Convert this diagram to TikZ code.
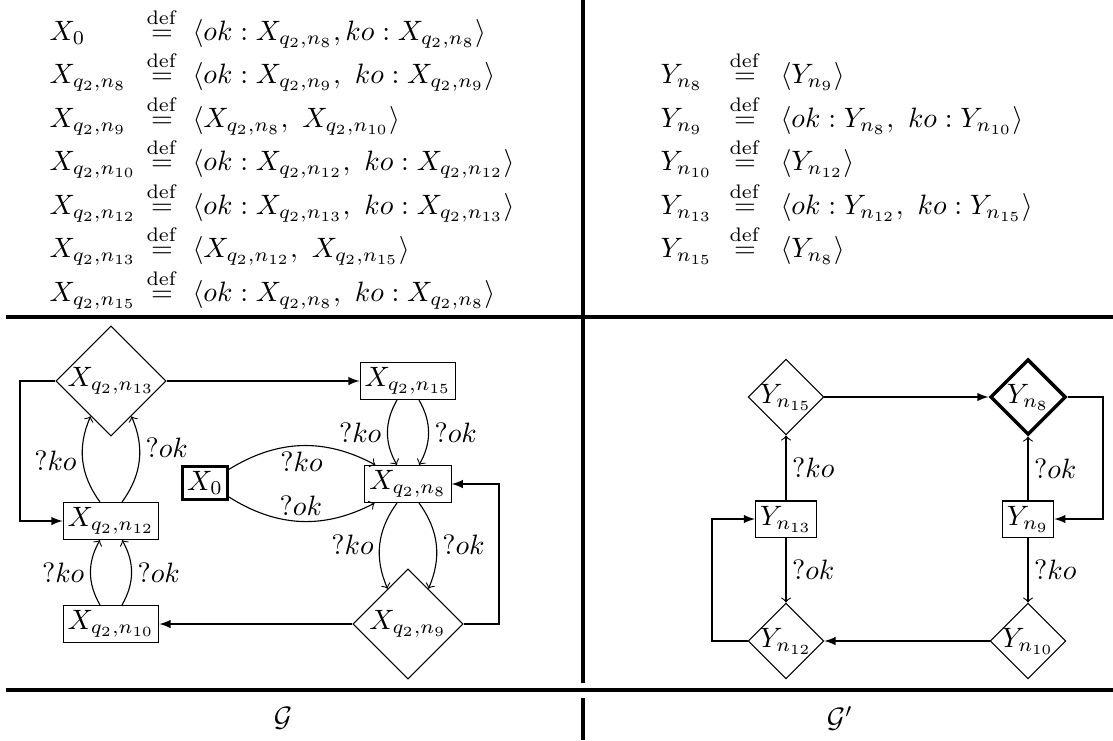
\documentclass[tikz,border=0pt]{standalone}
\usetikzlibrary{shapes.geometric,arrows}
\begin{document}
\begin{tikzpicture}[x=0.357pt,y=-0.357pt,
  rule/.style={line width=1.4pt},
  xbox/.style={draw, rectangle, inner xsep=1.6pt, inner ysep=0pt, minimum height=13.2pt},
  ybox/.style={draw, rectangle, inner xsep=1.6pt, inner ysep=0pt, minimum height=12.9pt},
  xdiam/.style={draw, diamond, inner sep=0pt, minimum width=39.3pt, minimum height=39.3pt},
  ydiam/.style={draw, diamond, inner sep=0pt, minimum width=27pt, minimum height=27pt},
  thickb/.style={line width=1.1pt},
  eqL/.style={anchor=base west, inner sep=0pt},
  eqD/.style={anchor=base, inner sep=0pt},
  open/.style={->},
  filled/.style={-latex},
  lbl/.style={inner sep=2pt}
]
\useasboundingbox (0,0) rectangle (1113,740);
\def\dfeq{$\stackrel{\mathrm{def}}{=}$}
% ---- rules
\draw[rule] (6,317) -- (1113,317);
\draw[rule] (583,0) -- (583,683);
\draw[rule] (6,690) -- (1113,690);
\draw[rule] (583,698) -- (583,740);
% ---- left equations
\node[eqL] (l1a) at (49,40) {$X_0$};
\node[eqD] (l1b) at (162,40) {\dfeq};
\node[eqL] (l1c) at (192,40) {$\langle ok : X_{q_2,n_8}, ko : X_{q_2,n_8}\rangle$};
\node[eqL] (l2a) at (49,83.5) {$X_{q_2,n_8}$};
\node[eqD] (l2b) at (162,83.5) {\dfeq};
\node[eqL] (l2c) at (192,83.5) {$\langle ok : X_{q_2,n_9},\ ko : X_{q_2,n_9}\rangle$};
\node[eqL] (l3a) at (49,127) {$X_{q_2,n_9}$};
\node[eqD] (l3b) at (162,127) {\dfeq};
\node[eqL] (l3c) at (192,127) {$\langle X_{q_2,n_8},\ X_{q_2,n_{10}}\rangle$};
\node[eqL] (l4a) at (49,170.5) {$X_{q_2,n_{10}}$};
\node[eqD] (l4b) at (162,170.5) {\dfeq};
\node[eqL] (l4c) at (192,170.5) {$\langle ok : X_{q_2,n_{12}},\ ko : X_{q_2,n_{12}}\rangle$};
\node[eqL] (l5a) at (49,214) {$X_{q_2,n_{12}}$};
\node[eqD] (l5b) at (162,214) {\dfeq};
\node[eqL] (l5c) at (192,214) {$\langle ok : X_{q_2,n_{13}},\ ko : X_{q_2,n_{13}}\rangle$};
\node[eqL] (l6a) at (49,257.5) {$X_{q_2,n_{13}}$};
\node[eqD] (l6b) at (162,257.5) {\dfeq};
\node[eqL] (l6c) at (192,257.5) {$\langle X_{q_2,n_{12}},\ X_{q_2,n_{15}}\rangle$};
\node[eqL] (l7a) at (49,301) {$X_{q_2,n_{15}}$};
\node[eqD] (l7b) at (162,301) {\dfeq};
\node[eqL] (l7c) at (192,301) {$\langle ok : X_{q_2,n_8},\ ko : X_{q_2,n_8}\rangle$};
% ---- right equations
\node[eqL] (r1a) at (660,83.5) {$Y_{n_8}$};
\node[eqD] (r1b) at (745,83.5) {\dfeq};
\node[eqL] (r1c) at (780,83.5) {$\langle Y_{n_9}\rangle$};
\node[eqL] (r2a) at (660,127) {$Y_{n_9}$};
\node[eqD] (r2b) at (745,127) {\dfeq};
\node[eqL] (r2c) at (780,127) {$\langle ok : Y_{n_8},\ ko : Y_{n_{10}}\rangle$};
\node[eqL] (r3a) at (660,170.5) {$Y_{n_{10}}$};
\node[eqD] (r3b) at (745,170.5) {\dfeq};
\node[eqL] (r3c) at (780,170.5) {$\langle Y_{n_{12}}\rangle$};
\node[eqL] (r4a) at (660,214) {$Y_{n_{13}}$};
\node[eqD] (r4b) at (745,214) {\dfeq};
\node[eqL] (r4c) at (780,214) {$\langle ok : Y_{n_{12}},\ ko : Y_{n_{15}}\rangle$};
\node[eqL] (r5a) at (660,257.5) {$Y_{n_{15}}$};
\node[eqD] (r5b) at (745,257.5) {\dfeq};
\node[eqL] (r5c) at (780,257.5) {$\langle Y_{n_8}\rangle$};
% ---- left graph
\node[xdiam] (n13) at (111,381) {};
\node (n13t) at (n13) {$X_{q_2,n_{13}}$};
\node[xbox] (n15) at (408,381) {$X_{q_2,n_{15}}$};
\node[xbox] (n8) at (408,484) {$X_{q_2,n_8}$};
\node[xbox] (n12) at (111,521) {$X_{q_2,n_{12}}$};
\node[xbox] (n10) at (111,624) {$X_{q_2,n_{10}}$};
\node[xdiam] (n9) at (408,624) {};
\node (n9t) at (n9) {$X_{q_2,n_9}$};
\node[xbox, thickb, minimum height=11.8pt] (x0) at (205,483) {$X_0$};
\coordinate (c1312) at (20,381);
\coordinate (c98) at (499,624);
\draw[filled] (n13.east) -- (n15.west);
\draw[filled] (n13.west) -- (c1312) |- (n12.west);
\draw[filled] (n9.west) -- (n10.east);
\draw[filled] (n9.east) -- (c98) |- (n8.east);
\draw[open] (n12) to[bend left=30] node[lbl, left] {$?ko$} (n13);
\draw[open] (n12) to[bend right=30] node[lbl, right, pos=0.65] {$?ok$} (n13);
\draw[open] (n10) to[bend left=30] node[lbl, left] {$?ko$} (n12);
\draw[open] (n10) to[bend right=30] node[lbl, right] {$?ok$} (n12);
\draw[open] (n15) to[bend right=30] node[lbl, left] {$?ko$} (n8);
\draw[open] (n15) to[bend left=30] node[lbl, right] {$?ok$} (n8);
\draw[open] (n8) to[bend right=30] node[lbl, left] {$?ko$} (n9);
\draw[open] (n8) to[bend left=30] node[lbl, right] {$?ok$} (n9);
\draw[open] (x0) to[bend left=30] node[lbl, below] {$?ko$} (n8);
\draw[open] (x0) to[bend right=30] node[lbl, above] {$?ok$} (n8);
% ---- right graph
\node[ydiam] (y15) at (786,397) {};
\node (y15t) at (y15) {$Y_{n_{15}}$};
\node[ydiam, line width=1.2pt] (y8) at (1028,397) {};
\node (y8t) at (y8) {$Y_{n_8}$};
\node[ybox] (y13) at (786,519) {$Y_{n_{13}}$};
\node[ybox] (y9) at (1028,519) {$Y_{n_9}$};
\node[ydiam] (y12) at (786,641) {};
\node (y12t) at (y12) {$Y_{n_{12}}$};
\node[ydiam] (y10) at (1028,641) {};
\node (y10t) at (y10) {$Y_{n_{10}}$};
\coordinate (c89) at (1103,397);
\coordinate (c1213) at (712,641);
\draw[filled] (y15.east) -- (y8.west);
\draw[filled] (y8.east) -- (c89) |- (y9.east);
\draw[filled] (y10.west) -- (y12.east);
\draw[filled] (y12.west) -- (c1213) |- (y13.west);
\draw[open] (y13) -- node[lbl, right] {$?ko$} (y15);
\draw[open] (y9) -- node[lbl, right] {$?ok$} (y8);
\draw[open] (y13) -- node[lbl, right] {$?ok$} (y12);
\draw[open] (y9) -- node[lbl, right] {$?ko$} (y10);
% ---- captions
\node (cg) at (283,718) {$\mathcal{G}$};
\node (cg2) at (840,718) {$\mathcal{G}'$};
\end{tikzpicture}
\end{document}
